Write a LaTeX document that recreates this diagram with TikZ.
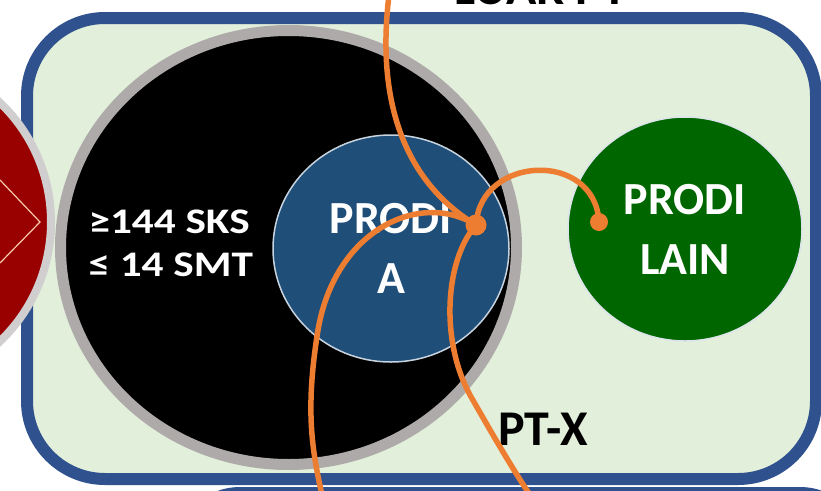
\documentclass[tikz,border=0pt]{standalone}
\usepackage{fontspec}
\setmainfont{Carlito}
\newfontfamily\syaratfont[FakeStretch=1.2]{Carlito}
\usetikzlibrary{shapes.geometric}

\definecolor{ptblue}{RGB}{47,82,143}
\definecolor{ptgreen}{RGB}{226,239,218}
\definecolor{ringgray}{RGB}{174,170,170}
\definecolor{prodiblue}{RGB}{31,78,121}
\definecolor{prodigreen}{RGB}{0,102,0}
\definecolor{luarred}{RGB}{153,0,0}
\definecolor{luarring}{RGB}{208,206,206}
\definecolor{linkorange}{RGB}{237,125,49}
\definecolor{peach}{RGB}{248,203,173}

\begin{document}
\begin{tikzpicture}[x=1pt,y=-1pt,
    circ/.style={ellipse, inner sep=0pt, align=center, text=white,
        font=\bfseries\fontsize{46}{60}\selectfont},
    link/.style={draw=linkorange, line width=5.5pt},
    dot/.style={circle, fill=linkorange, inner sep=0pt, minimum size=#1},
    label/.style={font=\bfseries\fontsize{50}{60}\selectfont}]
        \useasboundingbox (0,0) rectangle (821,490);
        \clip (0,0) rectangle (821,490);
        \fill[white] (0,0) rectangle (821,490);

        % pt-x
        \node[label, anchor=base] (luartxt) at (541,4) {LUAR PT};
        \draw[ptblue, fill=ptgreen, line width=12pt, rounded corners=78pt] (27,18) rectangle (816,479);
        \draw[ptblue, fill=ptgreen, line width=12pt, rounded corners=60pt] (180,493) rectangle (860,640);
        \node[label] (ptx) at (543,429) {PT-X};

        % luar pt
        \node[circle, fill=luarred, draw=luarring, line width=8pt, minimum size=330pt] (luar) at (-114,222) {};
        \draw[peach, line width=1.2pt] (0,180) -- (40,222) -- (0,263);

        % syarat
        \node[ellipse, fill=black, draw=ringgray, line width=11pt, minimum width=456pt, minimum height=434pt] (sks) at (288.5,247.5) {};
        \node[anchor=west, align=left, text=white, font=\syaratfont\bfseries\fontsize{36}{43}\selectfont] (sksktxt) at (85,243) {≥144 SKS\\≤ 14 SMT};

        % prodi
        \node[circ, fill=prodiblue, draw=prodiblue!25!white, line width=1.5pt, minimum width=236pt, minimum height=227pt] (prodia) at (391,248.5) {PRODI\\A};
        \node[circ, fill=prodigreen, draw=prodiblue!15!white, line width=1.5pt, minimum width=234pt, minimum height=224pt] (prodilain) at (685,229) {PRODI\\LAIN};

        % links
        \node[dot=21pt] (ja) at (476,225) {};
        \node[dot=18pt] (jb) at (599,222) {};
        \coordinate (atas) at (389,-5);
        \coordinate (bawahkiri) at (322,495);
        \coordinate (bawahkanan) at (530,495);

        \draw[link] (atas) .. controls (375,110) and (410,185) .. (ja.center);
        \draw[link] (ja.center) .. controls (480,155) and (595,150) .. (jb.center);
        \draw[link] (ja.center) .. controls (420,190) and (335,230) .. (318,330)
            .. controls (305,410) and (312,450) .. (bawahkiri);
        \draw[link] (ja.center) .. controls (445,260) and (440,340) .. (470,395)
            .. controls (490,430) and (510,465) .. (bawahkanan);
\end{tikzpicture}
\end{document}
